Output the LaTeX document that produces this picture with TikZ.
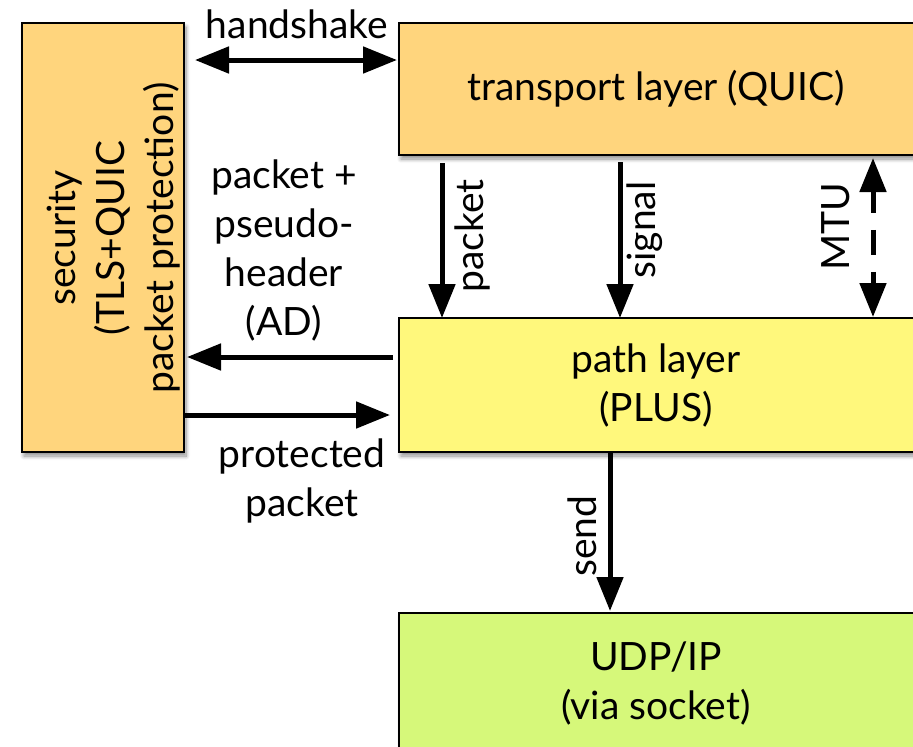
\documentclass[tikz,border=0pt]{standalone}
\usepackage{fontspec}
\setmainfont{Lato}
\usetikzlibrary{arrows.meta,calc,shadows.blur}

\definecolor{secfill}{RGB}{255,213,125}
\definecolor{pathfill}{RGB}{255,248,124}
\definecolor{udpfill}{RGB}{214,248,122}

\tikzset{
  layer/.style={draw=black, line width=2pt, anchor=north west,
    inner sep=0pt, outer sep=0pt,
    blur shadow={shadow xshift=2pt, shadow yshift=-4pt, shadow blur radius=4pt,
      shadow blur steps=8, shadow opacity=45}},
  lbl/.style={font=\fontsize{39}{49}\selectfont, align=center, inner sep=0pt},
  tip/.tip={Triangle[length=34pt,width=26pt]},
  flow/.style={line width=5pt, -tip},
  twoway/.style={line width=5pt, tip-tip},
}

\begin{document}
\begin{tikzpicture}[x=1pt,y=-1pt]
\useasboundingbox (0,0) rectangle (913,747);
\clip (0,0) rectangle (913,747);

% layer boxes
\node[layer, fill=secfill,  minimum width=162pt, minimum height=429pt] (sec)   at (22,23)  {};
\node[layer, fill=secfill,  minimum width=540pt, minimum height=132pt] (trans) at (399,23)  {};
\node[layer, fill=pathfill, minimum width=540pt, minimum height=134pt] (path)  at (399,318) {};
\node[layer, fill=udpfill,  minimum width=540pt, minimum height=160pt] (udp)   at (399,613) {};

% box texts
\node[lbl] (transtxt) at (656,89)  {transport layer (QUIC)};
\node[lbl] (pathtxt)  at (656,385) {path layer\\(PLUS)};
\node[lbl] (udptxt)   at (656,683) {UDP/IP\\(via socket)};
\node[lbl, rotate=90] (sectxt) at (114,238) {security\\(TLS+QUIC\\packet protection)};

% connector labels
\node[lbl] (hslbl)   at (297,24)  {handshake};
\node[lbl] (adlbl)   at (284,250) {packet +\\pseudo-\\header\\(AD)};
\node[lbl] (protlbl) at (302,481) {protected\\packet};
\node[lbl, rotate=90] (pktlbl)  at (472,236) {packet};
\node[lbl, rotate=90] (siglbl)  at (645,230) {signal};
\node[lbl, rotate=90] (mtulbl)  at (836,227) {MTU};
\node[lbl, rotate=90] (sendlbl) at (582,536) {send};

% connectors
\draw[twoway] ($(sec.north east)+(11,37)$) -- ($(trans.north west)+(-2,37)$);
\draw[flow] ($(trans.south west)+(43,8)$) -- ($(path.north west)+(43,0)$);
\draw[flow] ($(trans.south west)+(221,7)$) -- ($(path.north west)+(221,0)$);
\draw[twoway, dash pattern=on 22pt off 17pt on 25pt off 17pt]
  ($(trans.south west)+(474,3)$) -- ($(path.north west)+(474,-1)$);
\draw[flow] ($(path.north west)+(-6,39)$) -- ($(sec.north east)+(3,334)$);
\draw[flow] ($(sec.north east)+(0,392)$) -- ($(path.north west)+(-9,97)$);
\draw[flow] ($(path.south west)+(211,0)$) -- ($(udp.north west)+(211,-2)$);
\end{tikzpicture}
\end{document}
